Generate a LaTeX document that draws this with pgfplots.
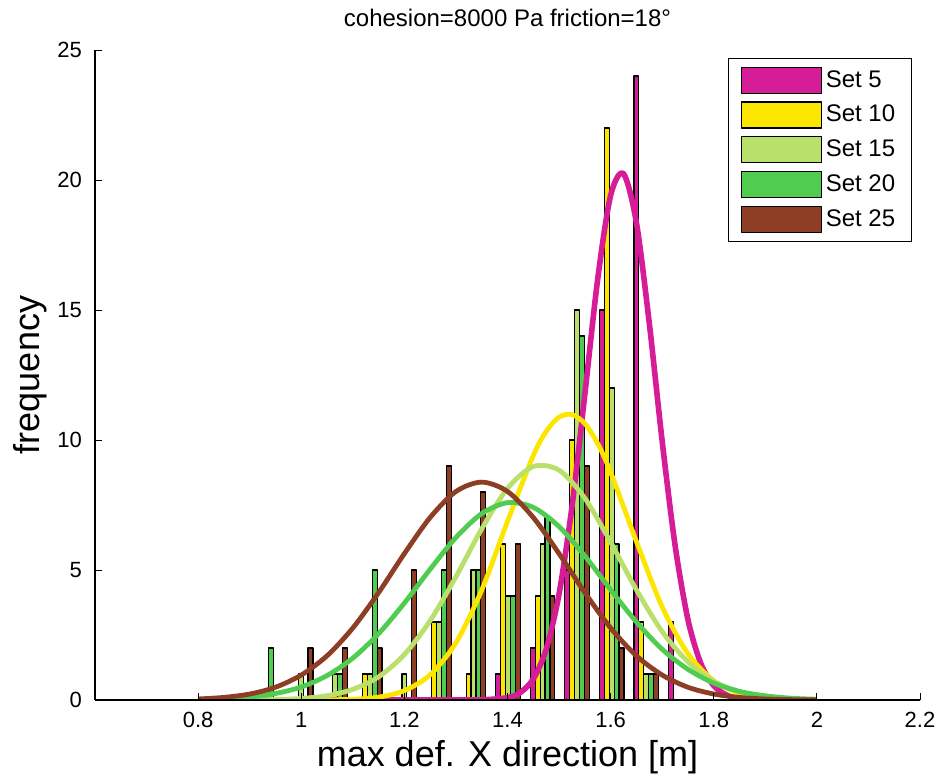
\documentclass[border=0pt]{standalone}
\usepackage{fontspec}
\setmainfont{Liberation Sans}
\usepackage{pgfplots}
\pgfplotsset{compat=1.18}
\definecolor{cMag}{RGB}{214,28,150}
\definecolor{cYel}{RGB}{252,230,0}
\definecolor{cLg}{RGB}{184,224,106}
\definecolor{cGr}{RGB}{80,204,80}
\definecolor{cBr}{RGB}{143,62,38}
\pgfplotsset{mybar/.style={ybar, bar width=0.0095, bar shift=0pt, draw=black, line width=0.6pt, fill=#1,
  legend image code/.code={\draw[fill=#1,draw=black,line width=0.6pt] (0pt,-6.5pt) rectangle (40pt,6.5pt);}}}
\begin{document}
\begin{tikzpicture}
\begin{axis}[
  at={(0,0)}, anchor=south west,
  scale only axis, width=412.5pt, height=325pt,
  xmin=0.6, xmax=2.2, ymin=0, ymax=25,
  axis x line*=bottom, axis y line*=left,
  xtick={0.8,1,1.2,1.4,1.6,1.8,2,2.2},
  ytick={0,5,10,15,20,25},
  tick align=inside, major tick length=3.5pt,
  tick style={black, line width=0.5pt},
  axis line style={black, line width=0.6pt},
  /pgf/number format/assume math mode=true,
  tick label style={font=\fontsize{11}{12}\selectfont},
  yticklabel style={xshift=-3pt},
  xticklabel style={yshift=-2.5pt},
  every axis title shift=0pt,
  title={cohesion=8000 Pa friction=18°},
  title style={at={(axis description cs:0.5,1.0354)}, anchor=base, inner sep=0pt, font=\fontsize{12}{14}\selectfont},
  xlabel={max def. X direction [m]},
  xlabel style={at={(axis description cs:0.5,-0.103)}, anchor=base, inner sep=0pt, font=\fontsize{18}{20}\selectfont},
  ylabel={frequency},
  ylabel style={at={(axis description cs:-0.0667,0.5)}, anchor=base, rotate=0, inner sep=0pt, font=\fontsize{18}{20}\selectfont},
  legend style={at={(0.99,0.988)}, anchor=north east, draw=black, line width=0.6pt, font=\fontsize{12}{14}\selectfont, row sep=3.5pt, inner xsep=6pt, inner ysep=4pt, cells={anchor=west}},
  legend cell align=left,
  axis on top,
  line join=round,
]
% Set 5
\addplot[mybar=cMag] coordinates {(1.382,1)(1.449,2)(1.516,5)(1.583,15)(1.650,24)(1.717,3)};
\addlegendentry{Set 5}
% Set 10
\addplot[mybar=cYel] coordinates {(1.1235,1)(1.2575,3)(1.3245,1)(1.3915,6)(1.4585,4)(1.5255,10)(1.5925,22)(1.6595,3)};
\addlegendentry{Set 10}
% Set 15
\addplot[mybar=cLg] coordinates {(0.999,1)(1.066,1)(1.133,1)(1.200,1)(1.267,3)(1.334,5)(1.401,4)(1.468,6)(1.535,15)(1.602,12)(1.669,1)};
\addlegendentry{Set 15}
% Set 20
\addplot[mybar=cGr] coordinates {(0.9415,2)(1.0755,1)(1.1425,5)(1.2765,5)(1.3435,5)(1.4105,4)(1.4775,7)(1.5445,14)(1.6115,6)(1.6785,1)};
\addlegendentry{Set 20}
% Set 25
\addplot[mybar=cBr] coordinates {(1.018,2)(1.085,2)(1.152,2)(1.219,5)(1.286,9)(1.353,8)(1.420,6)(1.487,4)(1.554,9)(1.621,2)(1.688,1)};
\addlegendentry{Set 25}
% fitted curves
\addplot[cMag, line width=2.8pt, smooth, forget plot] coordinates {(0.8,0)(1.0,0)(1.2,0)(1.3,0)(1.35,0.006)(1.4,0.09)(1.425,0.29)(1.45,0.81)(1.475,1.95)(1.5,4.08)(1.525,7.43)(1.55,11.76)(1.575,16.2)(1.6,19.41)(1.625,20.24)(1.65,18.36)(1.675,14.49)(1.7,9.95)(1.725,5.95)(1.75,3.09)(1.775,1.40)(1.8,0.55)(1.825,0.19)(1.85,0.056)(1.9,0.003)(2.0,0)};
\addplot[cYel, line width=2.4pt, smooth, forget plot] coordinates {(0.8,0)(0.9,0)(1.0,0.001)(1.05,0.007)(1.1,0.03)(1.15,0.11)(1.2,0.36)(1.25,0.97)(1.3,2.2)(1.35,4.23)(1.4,6.87)(1.45,9.4)(1.475,10.33)(1.5,10.88)(1.525,10.98)(1.55,10.63)(1.575,9.86)(1.6,8.76)(1.65,6.10)(1.7,3.58)(1.75,1.78)(1.8,0.74)(1.85,0.26)(1.9,0.08)(1.95,0.02)(2.0,0.004)};
\addplot[cLg, line width=2.4pt, smooth, forget plot] coordinates {(0.8,0.0003)(0.85,0.0014)(0.9,0.0055)(0.95,0.019)(1.0,0.06)(1.05,0.165)(1.1,0.41)(1.15,0.89)(1.2,1.75)(1.25,3.05)(1.3,4.74)(1.35,6.58)(1.4,8.14)(1.45,8.98)(1.5,8.84)(1.55,7.76)(1.6,6.07)(1.65,4.24)(1.7,2.63)(1.75,1.47)(1.8,0.72)(1.85,0.32)(1.9,0.125)(1.95,0.044)(2.0,0.014)};
\addplot[cGr, line width=2.4pt, smooth, forget plot] coordinates {(0.8,0.019)(0.85,0.048)(0.9,0.114)(0.95,0.25)(1.0,0.50)(1.05,0.94)(1.1,1.61)(1.15,2.55)(1.2,3.73)(1.25,5.03)(1.3,6.25)(1.35,7.17)(1.4,7.59)(1.45,7.41)(1.5,6.67)(1.55,5.54)(1.6,4.24)(1.65,3.00)(1.7,1.95)(1.75,1.18)(1.8,0.65)(1.85,0.33)(1.9,0.16)(1.95,0.069)(2.0,0.028)};
\addplot[cBr, line width=2.4pt, smooth, forget plot] coordinates {(0.8,0.039)(0.85,0.10)(0.9,0.23)(0.95,0.49)(1.0,0.96)(1.05,1.70)(1.1,2.77)(1.15,4.13)(1.2,5.63)(1.25,7.02)(1.3,8.02)(1.35,8.38)(1.4,8.02)(1.45,7.02)(1.5,5.63)(1.55,4.13)(1.6,2.77)(1.65,1.70)(1.7,0.96)(1.75,0.49)(1.8,0.23)(1.85,0.10)(1.9,0.039)(1.95,0.014)(2.0,0.005)};
\end{axis}
\pgfresetboundingbox
\path (-47.5pt,-41.5pt) rectangle (423.5pt,350pt);
\end{tikzpicture}
\end{document}
